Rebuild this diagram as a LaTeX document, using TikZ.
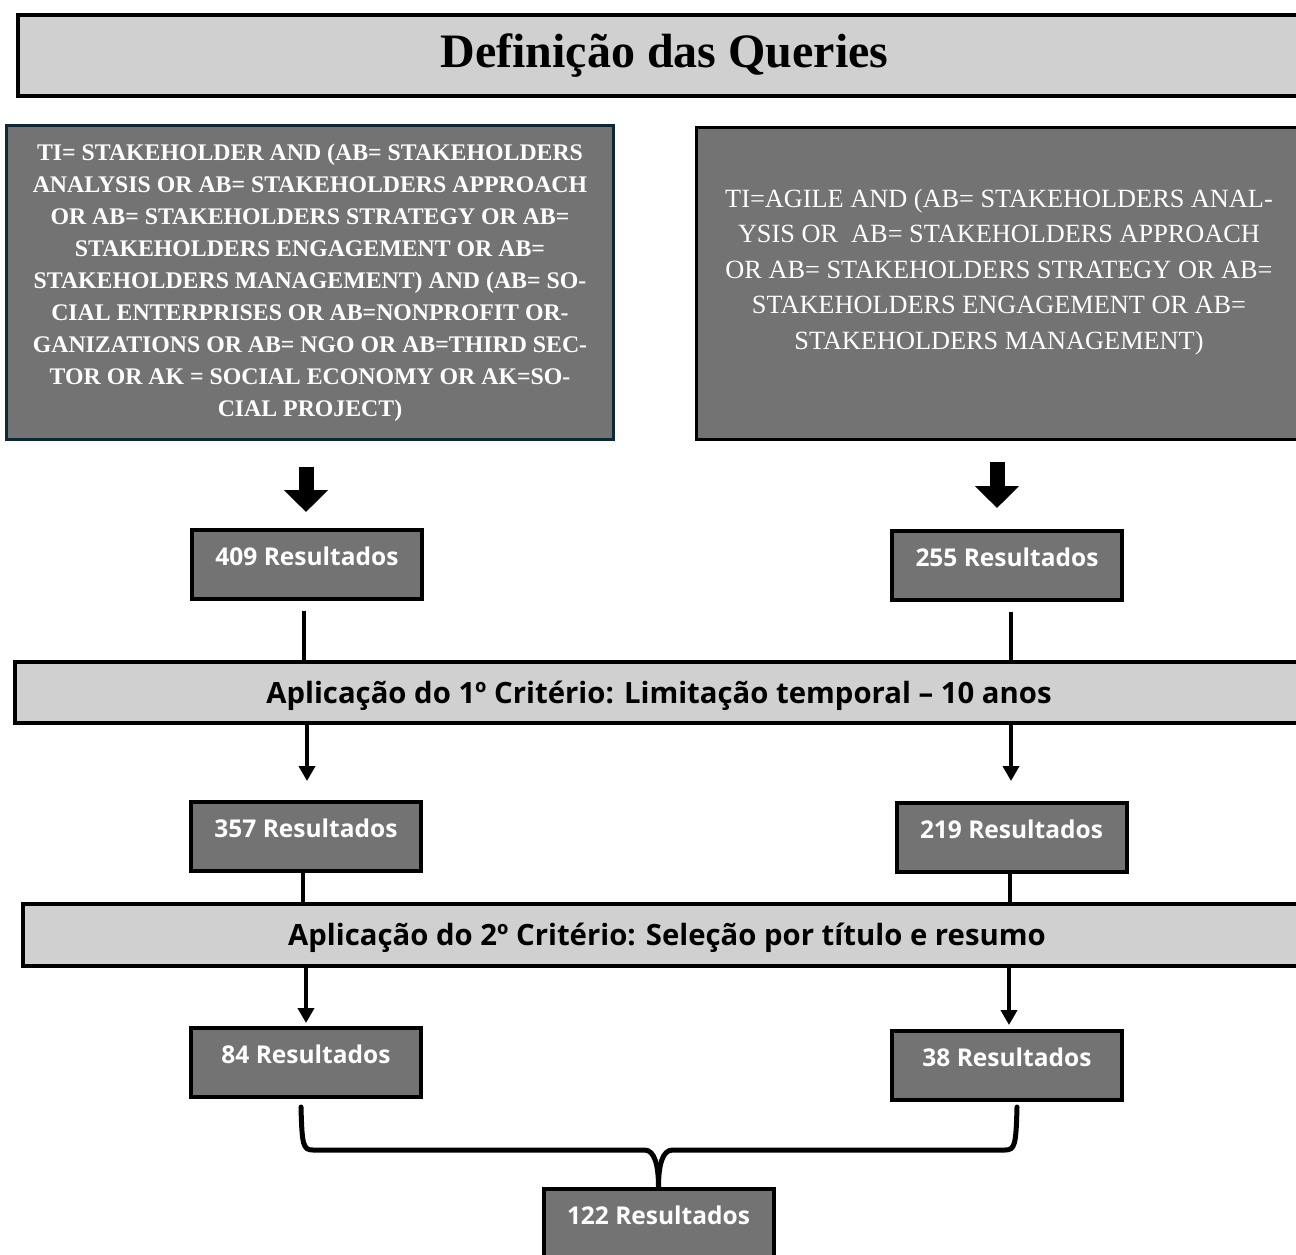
\documentclass[tikz,border=0pt]{standalone}
\usepackage{fontspec}
\setmainfont{Liberation Serif}
\newfontfamily\uisans{Open Sans}
\usetikzlibrary{arrows.meta,calc}

\definecolor{boxgray}{RGB}{115,115,115}
\definecolor{bargray}{RGB}{208,208,208}
\definecolor{navyedge}{RGB}{14,40,56}

\tikzset{
  bannerbox/.style={draw=black, line width=4pt, fill=bargray, inner sep=0pt},
  querybox/.style={fill=boxgray, line width=3pt, inner sep=0pt, text=white, align=center},
  resultbox/.style={draw=black, line width=4pt, fill=boxgray, inner sep=0pt,
    minimum width=230pt, minimum height=69pt, text=white,
    font=\uisans\bfseries\fontsize{24.5}{28}\selectfont,
    text height=17.5pt, text depth=15pt},
  barbox/.style={bannerbox, font=\uisans\bfseries\fontsize{29.3}{33}\selectfont,
    text height=21pt, text depth=0pt},
  blockarrow/.style={line width=15pt, -{Triangle[width=43pt,length=22pt]}},
  flowarrow/.style={line width=4pt, -{Triangle[width=16pt,length=15pt]}},
  linkline/.style={line width=4pt},
  braceline/.style={line width=5pt, line cap=round},
}

\begin{document}
\begin{tikzpicture}[x=1pt, y=-1pt]
\useasboundingbox (0,0) rectangle (1296,1255);
\clip (0,0) rectangle (1296,1255);

% heading
\node[bannerbox, minimum width=1293pt, minimum height=81pt, anchor=west,
      font=\bfseries\fontsize{48}{56}\selectfont] (title) at (16,55.5)
      {Definição das Queries};

% query boxes
\node[querybox, draw=navyedge, minimum width=607pt, minimum height=314pt,
      font=\bfseries\fontsize{23.8}{32}\selectfont] (q1) at (310,282.5)
{TI= STAKEHOLDER AND (AB= STAKEHOLDERS\\
ANALYSIS OR AB= STAKEHOLDERS APPROACH\\
OR AB= STAKEHOLDERS STRATEGY OR AB=\\
STAKEHOLDERS ENGAGEMENT OR AB=\\
STAKEHOLDERS MANAGEMENT) AND (AB= SO-\\
CIAL ENTERPRISES OR AB=NONPROFIT OR-\\
GANIZATIONS OR AB= NGO OR AB=THIRD SEC-\\
TOR OR AK = SOCIAL ECONOMY OR AK=SO-\\
CIAL PROJECT)};

\node[querybox, draw=black, line width=3.5pt, minimum width=700pt,
      minimum height=312pt, anchor=west] (q2) at (694.75,283.5) {};
\node[text=white, align=center, inner sep=0pt,
      font=\fontsize{26.3}{35.5}\selectfont] (q2txt) at (999,272)
{TI=AGILE AND (AB= STAKEHOLDERS ANAL-\\
YSIS OR\ \ AB= STAKEHOLDERS APPROACH\\
OR AB= STAKEHOLDERS STRATEGY OR AB=\\
STAKEHOLDERS ENGAGEMENT OR AB=\\
STAKEHOLDERS MANAGEMENT)};

% result counts
\node[resultbox] (r409) at (307,564.5) {409 Resultados};
\node[resultbox] (r255) at (1007,565) {255 Resultados};
\node[resultbox] (r357) at (306,836.5) {357 Resultados};
\node[resultbox] (r219) at (1011.5,837.5) {219 Resultados};
\node[resultbox] (r84) at (306,1062.5) {84 Resultados};
\node[resultbox] (r38) at (1007,1065) {38 Resultados};
\node[resultbox] (r122) at (658.5,1223.5) {122 Resultados};

% criteria bars
\node[barbox, minimum width=1288pt, minimum height=61pt, anchor=west] (bar1)
      at (13,692.5) {Aplicação do 1º Critério: Limitação temporal – 10 anos};
\node[barbox, minimum width=1288pt, minimum height=62pt, anchor=west] (bar2)
      at (21,935) {Aplicação do 2º Critério: Seleção por título e resumo};

% queries to first counts
\draw[blockarrow, shorten <=25.5pt, shorten >=16pt]
  ([xshift=-1pt]r409.north |- q1.south) -- ([xshift=-1pt]r409.north);
\draw[blockarrow, shorten <=20.5pt, shorten >=20.5pt]
  ([xshift=-10pt]r255.north |- q2.south) -- ([xshift=-10pt]r255.north);

% counts into first criterion
\draw[linkline, shorten <=10pt]
  ([xshift=-3pt]r409.south) -- ([xshift=-3pt]r409.south |- bar1.north);
\draw[linkline, shorten <=10pt]
  ([xshift=4pt]r255.south) -- ([xshift=4pt]r255.south |- bar1.north);

% first criterion to counts
\draw[flowarrow, shorten >=19pt]
  ([xshift=1pt]r357.north |- bar1.south) -- ([xshift=1pt]r357.north);
\draw[flowarrow, shorten >=20pt]
  ([xshift=-0.5pt]r219.north |- bar1.south) -- ([xshift=-0.5pt]r219.north);

% counts into second criterion
\draw[linkline]
  ([xshift=-3pt]r357.south) -- ([xshift=-3pt]r357.south |- bar2.north);
\draw[linkline]
  ([xshift=-1.5pt]r219.south) -- ([xshift=-1.5pt]r219.south |- bar2.north);

% second criterion to counts
\draw[flowarrow, shorten >=3pt]
  (r84.north |- bar2.south) -- (r84.north);
\draw[flowarrow, shorten >=3.5pt]
  ([xshift=2pt]r38.north |- bar2.south) -- ([xshift=2pt]r38.north);

% brace joining both branches
\coordinate (bl) at ([xshift=-5pt,yshift=-8pt]r84.south);
\coordinate (br) at ([xshift=10pt,yshift=-5.5pt]r38.south);
\coordinate (hb) at (0,1150);
\draw[braceline] (bl) .. controls +(1,38) and +(-10,0) .. ([xshift=12pt]bl |- hb)
  -- ([xshift=-14pt]r122.north |- hb) .. controls +(10,0) and +(0,-22) .. (r122.north);
\draw[braceline] (br) .. controls +(-1,38) and +(10,0) .. ([xshift=-12pt]br |- hb)
  -- ([xshift=14pt]r122.north |- hb) .. controls +(-10,0) and +(0,-22) .. (r122.north);
\end{tikzpicture}
\end{document}
